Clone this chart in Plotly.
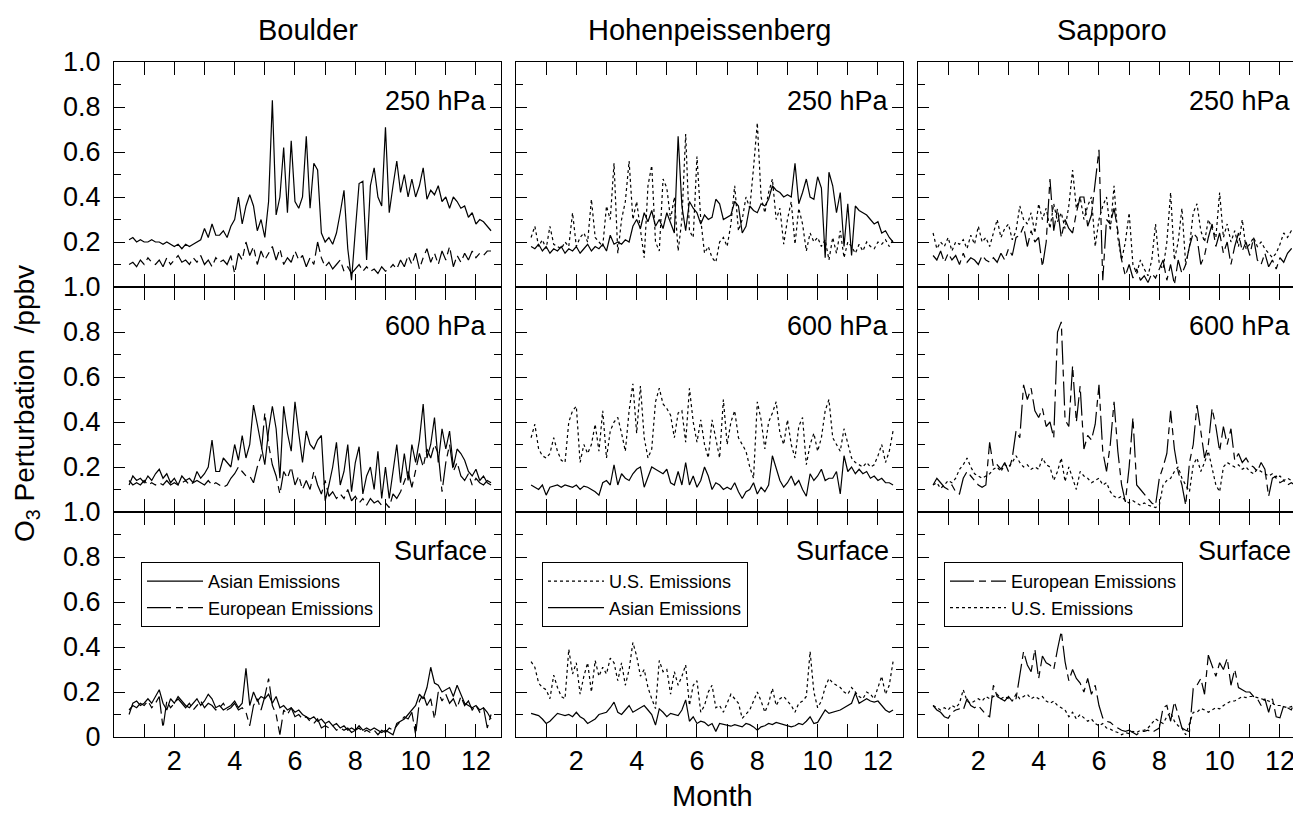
import plotly.graph_objects as go

# ---------------- data (O3 perturbation, ppbv) ----------------
months = [0.5 + i * 0.125 for i in range(97)]
sites = ["Boulder", "Hohenpeissenberg", "Sapporo"]
levels = ["250 hPa", "600 hPa", "Surface"]
month_ticks = list(range(1, 13))
month_labels = [str(m) if m % 2 == 0 else "" for m in month_ticks]
y_ticks = [0, 0.2, 0.4, 0.6, 0.8, 1.0]
y_labels_top = ["", "0.2", "0.4", "0.6", "0.8", "1.0"]
y_labels_bottom = ["0", "0.2", "0.4", "0.6", "0.8", "1.0"]
y_minor = [0.1, 0.3, 0.5, 0.7, 0.9]

# Boulder
BA250 = [0.21,0.22,0.20,0.21,0.20,0.20,0.21,0.20, 0.20,0.19,0.20,0.19,0.18,0.19,0.17,0.19,
         0.18,0.19,0.20,0.21,0.26,0.22,0.28,0.23, 0.23,0.25,0.22,0.27,0.30,0.40,0.28,0.36,
         0.41,0.36,0.25,0.30,0.22,0.38,0.83,0.32, 0.40,0.62,0.33,0.65,0.38,0.35,0.40,0.67,
         0.35,0.55,0.52,0.24,0.20,0.22,0.19,0.24, 0.33,0.43,0.17,0.03,0.25,0.46,0.47,0.12,
         0.45,0.53,0.40,0.36,0.71,0.33,0.45,0.56, 0.42,0.50,0.40,0.48,0.40,0.45,0.53,0.39,
         0.43,0.41,0.45,0.38,0.40,0.35,0.40,0.38, 0.35,0.36,0.31,0.33,0.28,0.30,0.29,0.27, 0.25]
BE250 = [0.10,0.11,0.09,0.12,0.10,0.13,0.11,0.10, 0.12,0.09,0.13,0.10,0.12,0.14,0.11,0.12,
         0.10,0.13,0.11,0.14,0.10,0.12,0.09,0.13, 0.11,0.12,0.10,0.14,0.06,0.15,0.12,0.20,
         0.14,0.18,0.10,0.16,0.12,0.15,0.18,0.12, 0.17,0.10,0.13,0.11,0.16,0.12,0.14,0.09,
         0.13,0.10,0.20,0.13,0.09,0.11,0.08,0.10, 0.12,0.07,0.09,0.06,0.08,0.10,0.07,0.09,
         0.07,0.08,0.06,0.09,0.07,0.08,0.10,0.08, 0.12,0.09,0.14,0.10,0.15,0.08,0.13,0.17,
         0.11,0.15,0.10,0.16,0.12,0.18,0.09,0.14, 0.11,0.15,0.12,0.16,0.13,0.15,0.14,0.16, 0.16]
BA600 = [0.12,0.16,0.14,0.15,0.13,0.16,0.14,0.17, 0.19,0.15,0.17,0.13,0.15,0.12,0.16,0.14,
         0.15,0.13,0.18,0.15,0.17,0.20,0.32,0.18, 0.18,0.24,0.22,0.20,0.30,0.23,0.34,0.24,
         0.30,0.475,0.39,0.30,0.21,0.36,0.47,0.37, 0.15,0.47,0.35,0.27,0.49,0.35,0.22,0.36,
         0.30,0.28,0.32,0.34,0.05,0.12,0.20,0.31, 0.12,0.18,0.30,0.09,0.22,0.29,0.08,0.16,
         0.20,0.10,0.27,0.06,0.20,0.06,0.18,0.30, 0.13,0.26,0.14,0.30,0.22,0.32,0.48,0.24,
         0.30,0.42,0.22,0.37,0.28,0.36,0.20,0.28, 0.26,0.23,0.18,0.16,0.19,0.14,0.16,0.13, 0.12]
BE600 = [0.14,0.12,0.13,0.12,0.14,0.12,0.13,0.12, 0.13,0.12,0.14,0.12,0.13,0.12,0.13,0.14,
         0.12,0.13,0.14,0.13,0.12,0.14,0.12,0.13, 0.12,0.11,0.12,0.15,0.17,0.20,0.18,0.16,
         0.16,0.13,0.20,0.25,0.44,0.30,0.21,0.16, 0.08,0.18,0.15,0.20,0.12,0.16,0.10,0.14,
         0.10,0.18,0.12,0.08,0.14,0.07,0.09,0.06, 0.08,0.06,0.10,0.05,0.07,0.04,0.06,0.03,
         0.06,0.04,0.05,0.03,0.04,0.02,0.08,0.06, 0.09,0.14,0.18,0.11,0.18,0.26,0.20,0.28,
         0.24,0.30,0.26,0.09,0.22,0.30,0.18,0.22, 0.16,0.14,0.17,0.12,0.15,0.13,0.12,0.14, 0.13]
BA_S = [0.10,0.15,0.16,0.14,0.15,0.17,0.15,0.18, 0.21,0.15,0.12,0.17,0.15,0.18,0.16,0.14,
        0.13,0.15,0.17,0.14,0.16,0.19,0.17,0.13, 0.14,0.12,0.13,0.14,0.16,0.13,0.15,0.305,
        0.14,0.20,0.16,0.18,0.17,0.19,0.15,0.18, 0.13,0.14,0.12,0.13,0.11,0.12,0.10,0.09,
        0.08,0.09,0.07,0.08,0.06,0.07,0.05,0.06, 0.04,0.05,0.03,0.04,0.03,0.05,0.03,0.04,
        0.03,0.04,0.03,0.02,0.03,0.02,0.01,0.06, 0.07,0.08,0.10,0.12,0.14,0.19,0.17,0.22,
        0.31,0.24,0.23,0.20,0.21,0.22,0.18,0.23, 0.19,0.15,0.14,0.13,0.14,0.12,0.13,0.11, 0.08]
BE_S = [0.12,0.14,0.13,0.15,0.14,0.16,0.13,0.15, 0.18,0.04,0.16,0.13,0.15,0.17,0.15,0.13,
        0.15,0.12,0.14,0.16,0.13,0.15,0.14,0.12, 0.13,0.15,0.12,0.13,0.15,0.12,0.13,0.11,
        0.05,0.14,0.17,0.12,0.18,0.26,0.14,0.10, 0.01,0.12,0.10,0.13,0.09,0.10,0.08,0.09,
        0.07,0.06,0.08,0.04,0.05,0.04,0.05,0.03, 0.04,0.03,0.04,0.02,0.03,0.04,0.02,0.03,
        0.02,0.03,0.01,0.03,0.02,0.04,0.03,0.05, 0.07,0.09,0.08,0.11,0.01,0.16,0.19,0.14,
        0.17,0.08,0.20,0.16,0.19,0.15,0.17,0.13, 0.18,0.14,0.16,0.12,0.14,0.11,0.13,0.04, 0.10]

# Hohenpeissenberg
HA250 = [0.18,0.17,0.19,0.16,0.18,0.15,0.17,0.16, 0.18,0.15,0.17,0.16,0.18,0.15,0.17,0.19,
         0.16,0.18,0.17,0.19,0.16,0.23,0.19,0.20, 0.19,0.21,0.20,0.27,0.30,0.26,0.33,0.29,
         0.34,0.27,0.30,0.26,0.33,0.28,0.24,0.67, 0.36,0.25,0.38,0.35,0.33,0.28,0.32,0.30,
         0.31,0.39,0.37,0.30,0.31,0.32,0.38,0.36, 0.24,0.27,0.36,0.34,0.33,0.37,0.36,0.39,
         0.45,0.43,0.42,0.40,0.41,0.40,0.55,0.37, 0.42,0.48,0.40,0.39,0.49,0.44,0.13,0.51,
         0.45,0.33,0.42,0.18,0.37,0.14,0.36,0.34, 0.33,0.32,0.30,0.28,0.29,0.24,0.25,0.22, 0.20]
HU250 = [0.22,0.27,0.18,0.21,0.17,0.27,0.19,0.18, 0.17,0.20,0.18,0.33,0.18,0.22,0.24,0.20,
         0.39,0.22,0.20,0.18,0.36,0.30,0.55,0.15, 0.30,0.38,0.56,0.30,0.38,0.26,0.13,0.45,
         0.54,0.20,0.16,0.48,0.44,0.30,0.40,0.16, 0.30,0.68,0.25,0.22,0.58,0.30,0.15,0.18,
         0.13,0.11,0.20,0.22,0.18,0.28,0.45,0.25, 0.30,0.40,0.35,0.53,0.73,0.40,0.33,0.42,
         0.48,0.30,0.35,0.19,0.30,0.38,0.19,0.35, 0.28,0.16,0.24,0.20,0.22,0.18,0.21,0.12,
         0.22,0.15,0.25,0.13,0.20,0.18,0.15,0.19, 0.16,0.20,0.18,0.17,0.20,0.19,0.21,0.18, 0.21]
HA600 = [0.12,0.11,0.10,0.12,0.075,0.11,0.115,0.12, 0.11,0.12,0.115,0.11,0.12,0.10,0.115,0.11,
         0.10,0.09,0.075,0.13,0.14,0.12,0.21,0.12, 0.17,0.15,0.14,0.17,0.19,0.20,0.11,0.16,
         0.20,0.19,0.18,0.17,0.19,0.13,0.12,0.18, 0.12,0.22,0.12,0.16,0.11,0.14,0.20,0.16,
         0.10,0.13,0.12,0.10,0.11,0.10,0.13,0.09, 0.06,0.09,0.10,0.13,0.08,0.11,0.09,0.12,
         0.25,0.19,0.14,0.11,0.13,0.16,0.12,0.14, 0.10,0.07,0.17,0.14,0.16,0.19,0.14,0.15,
         0.15,0.18,0.08,0.25,0.18,0.20,0.17,0.19, 0.17,0.18,0.15,0.16,0.14,0.15,0.13,0.13, 0.12]
HU600 = [0.33,0.39,0.28,0.25,0.24,0.26,0.33,0.27, 0.23,0.22,0.40,0.45,0.47,0.22,0.30,0.26,
         0.30,0.39,0.27,0.45,0.24,0.36,0.40,0.42, 0.35,0.27,0.45,0.57,0.35,0.56,0.33,0.24,
         0.28,0.49,0.55,0.48,0.46,0.43,0.33,0.44, 0.45,0.31,0.55,0.40,0.31,0.41,0.30,0.24,
         0.41,0.33,0.24,0.50,0.30,0.40,0.45,0.33, 0.30,0.27,0.20,0.15,0.49,0.41,0.28,0.40,
         0.44,0.49,0.35,0.30,0.41,0.30,0.24,0.38, 0.42,0.21,0.30,0.35,0.27,0.33,0.45,0.50,
         0.33,0.30,0.27,0.37,0.30,0.24,0.22,0.21, 0.20,0.22,0.20,0.21,0.25,0.30,0.22,0.27, 0.36]
HA_S = [0.105,0.10,0.095,0.08,0.06,0.07,0.09,0.105, 0.10,0.095,0.10,0.09,0.11,0.09,0.08,0.06,
        0.07,0.08,0.10,0.105,0.11,0.13,0.155,0.11, 0.10,0.12,0.14,0.11,0.12,0.13,0.14,0.12,
        0.10,0.053,0.125,0.11,0.09,0.105,0.10,0.095, 0.12,0.165,0.07,0.09,0.06,0.07,0.065,0.05,
        0.06,0.025,0.06,0.055,0.05,0.048,0.055,0.05, 0.045,0.06,0.055,0.045,0.03,0.045,0.05,0.06,
        0.055,0.065,0.06,0.055,0.05,0.045,0.05,0.06, 0.055,0.07,0.09,0.06,0.065,0.09,0.12,0.105,
        0.11,0.115,0.12,0.13,0.14,0.15,0.195,0.15, 0.16,0.17,0.16,0.155,0.16,0.14,0.12,0.11, 0.12]
HU_S = [0.335,0.31,0.24,0.22,0.21,0.17,0.275,0.22, 0.18,0.17,0.39,0.28,0.33,0.19,0.27,0.33,
        0.20,0.34,0.27,0.31,0.28,0.35,0.33,0.25, 0.33,0.23,0.30,0.42,0.36,0.27,0.30,0.22,
        0.17,0.126,0.34,0.29,0.30,0.19,0.29,0.23, 0.27,0.32,0.14,0.23,0.25,0.11,0.14,0.20,
        0.23,0.13,0.14,0.11,0.15,0.19,0.17,0.15, 0.083,0.10,0.12,0.16,0.20,0.16,0.11,0.15,
        0.216,0.14,0.17,0.18,0.16,0.14,0.11,0.15, 0.16,0.18,0.38,0.20,0.13,0.16,0.22,0.26,
        0.24,0.23,0.22,0.20,0.19,0.22,0.20,0.18, 0.17,0.20,0.19,0.17,0.22,0.27,0.19,0.23, 0.335]

# Sapporo
SE250 = [0.14,0.12,0.16,0.11,0.15,0.12,0.14,0.10, 0.15,0.11,0.13,0.12,0.10,0.14,0.12,0.11,
         0.13,0.11,0.15,0.12,0.17,0.14,0.22,0.23, 0.27,0.18,0.25,0.20,0.22,0.09,0.20,0.48,
         0.25,0.35,0.22,0.30,0.26,0.24,0.33,0.40, 0.40,0.27,0.32,0.48,0.61,0.03,0.30,0.28,
         0.35,0.25,0.12,0.05,0.10,0.04,0.08,0.03, 0.05,0.02,0.06,0.04,0.08,0.12,0.03,0.10,
         0.01,0.12,0.06,0.10,0.18,0.24,0.22,0.10, 0.14,0.22,0.28,0.18,0.24,0.15,0.20,0.10,
         0.18,0.24,0.16,0.20,0.14,0.22,0.12,0.10, 0.15,0.09,0.12,0.08,0.13,0.11,0.15,0.17, 0.18]
SU250 = [0.24,0.17,0.20,0.18,0.22,0.16,0.20,0.19, 0.21,0.17,0.23,0.19,0.27,0.20,0.22,0.18,
         0.24,0.30,0.22,0.26,0.28,0.21,0.25,0.36, 0.30,0.28,0.33,0.24,0.37,0.30,0.35,0.26,
         0.37,0.29,0.33,0.26,0.36,0.52,0.35,0.40, 0.30,0.36,0.40,0.18,0.30,0.36,0.40,0.25,
         0.45,0.22,0.12,0.20,0.33,0.10,0.06,0.12, 0.08,0.05,0.12,0.28,0.10,0.08,0.20,0.42,
         0.12,0.20,0.35,0.10,0.18,0.33,0.37,0.25, 0.20,0.30,0.26,0.22,0.42,0.22,0.28,0.20,
         0.25,0.18,0.30,0.17,0.19,0.22,0.18,0.20, 0.17,0.15,0.13,0.15,0.19,0.24,0.22,0.25, 0.24]
SE600 = [0.12,0.15,0.13,0.11,0.10,0.12,0.09,0.08, 0.15,0.18,0.16,0.14,0.12,0.11,0.12,0.31,
         0.20,0.21,0.19,0.22,0.18,0.24,0.36,0.33, 0.565,0.50,0.55,0.45,0.42,0.46,0.38,0.40,
         0.33,0.80,0.845,0.41,0.38,0.65,0.40,0.56, 0.28,0.34,0.32,0.39,0.565,0.27,0.18,0.30,
         0.49,0.27,0.12,0.045,0.20,0.42,0.12,0.10, 0.08,0.06,0.04,0.03,0.15,0.20,0.26,0.45,
         0.28,0.18,0.12,0.03,0.22,0.30,0.475,0.36, 0.24,0.30,0.46,0.38,0.27,0.38,0.30,0.37,
         0.23,0.26,0.22,0.24,0.21,0.20,0.18,0.22, 0.19,0.07,0.15,0.16,0.13,0.14,0.12,0.13, 0.12]
SU600 = [0.12,0.13,0.105,0.12,0.14,0.13,0.15,0.19, 0.21,0.24,0.20,0.17,0.16,0.15,0.16,0.17,
         0.19,0.20,0.18,0.21,0.20,0.22,0.25,0.22, 0.20,0.21,0.19,0.20,0.19,0.24,0.21,0.20,
         0.14,0.18,0.24,0.135,0.20,0.15,0.10,0.18, 0.16,0.15,0.13,0.14,0.15,0.12,0.13,0.09,
         0.07,0.06,0.07,0.05,0.04,0.05,0.04,0.03, 0.04,0.03,0.025,0.02,0.03,0.12,0.14,0.15,
         0.18,0.20,0.15,0.12,0.09,0.21,0.24,0.18, 0.22,0.27,0.20,0.12,0.09,0.20,0.22,0.21,
         0.20,0.21,0.19,0.20,0.18,0.17,0.19,0.18, 0.17,0.16,0.17,0.15,0.16,0.14,0.15,0.14, 0.13]
SE_S = [0.14,0.12,0.11,0.09,0.083,0.11,0.12,0.125, 0.12,0.17,0.14,0.13,0.14,0.12,0.10,0.09,
        0.23,0.18,0.17,0.16,0.18,0.16,0.17,0.275, 0.38,0.32,0.29,0.39,0.26,0.36,0.33,0.32,
        0.30,0.39,0.47,0.335,0.25,0.30,0.26,0.24, 0.20,0.26,0.19,0.23,0.14,0.085,0.07,0.065,
        0.05,0.04,0.03,0.025,0.03,0.02,0.01,0.025, 0.025,0.03,0.02,0.03,0.04,0.13,0.14,0.07,
        0.157,0.10,0.04,0.03,0.024,0.216,0.23,0.26, 0.19,0.364,0.32,0.27,0.33,0.30,0.35,0.23,
        0.30,0.22,0.21,0.20,0.20,0.18,0.17,0.14, 0.17,0.11,0.17,0.09,0.085,0.14,0.13,0.12, 0.16]
SU_S = [0.14,0.13,0.12,0.13,0.12,0.14,0.13,0.15, 0.21,0.16,0.15,0.16,0.17,0.16,0.18,0.17,
        0.18,0.19,0.17,0.18,0.17,0.16,0.19,0.17, 0.18,0.19,0.17,0.18,0.17,0.18,0.16,0.15,
        0.16,0.14,0.13,0.12,0.09,0.11,0.08,0.10, 0.085,0.07,0.08,0.06,0.05,0.06,0.04,0.035,
        0.025,0.02,0.01,0.02,0.015,0.025,0.02,0.03, 0.03,0.04,0.06,0.08,0.07,0.06,0.09,0.11,
        0.07,0.05,0.04,0.01,0.06,0.11,0.11,0.127, 0.12,0.11,0.12,0.13,0.125,0.14,0.15,0.16,
        0.16,0.17,0.18,0.175,0.18,0.18,0.175,0.17, 0.165,0.16,0.15,0.14,0.14,0.135,0.13,0.135, 0.14]

site_series = {
    "Boulder": [("Asian Emissions", [BA250, BA600, BA_S]),
                ("European Emissions", [BE250, BE600, BE_S])],
    "Hohenpeissenberg": [("U.S. Emissions", [HU250, HU600, HU_S]),
                         ("Asian Emissions", [HA250, HA600, HA_S])],
    "Sapporo": [("European Emissions", [SE250, SE600, SE_S]),
                ("U.S. Emissions", [SU250, SU600, SU_S])],
}

# ---------------- styling / layout ----------------
# page body has an 8px margin, so figure pixel = reference pixel - 8
W, H = 1301, 817
FONT = "Liberation Sans, Arial, Helvetica, sans-serif"
dash_of = {"Asian Emissions": "solid",
           "European Emissions": "24px,5px,7px,5px",
           "U.S. Emissions": "3px,3px"}
col_px = [(106, 493), (508, 895), (910, 1297)]
row_px = [(54, 279), (279, 504), (504, 729)]
x_range = [0, 12.83]
legend_keys = ["legend", "legend2", "legend3"]
legend_px = [(133, 554), (534, 554), (936, 554)]

TICK = 27
TITLE = 29
fig = go.Figure()

for c, site in enumerate(sites):
    for r in range(3):
        idx = r * 3 + c + 1
        sfx = "" if idx == 1 else str(idx)
        for name, arrs in site_series[site]:
            fig.add_trace(go.Scatter(
                x=months, y=arrs[r], mode="lines", name=name,
                line=dict(color="black", width=1.2, dash=dash_of[name]),
                xaxis="x" + sfx, yaxis="y" + sfx,
                showlegend=(r == 2), legend=legend_keys[c],
                hoverinfo="skip"))
        fig.layout["xaxis" + sfx] = dict(
            domain=[col_px[c][0] / W, col_px[c][1] / W], range=x_range,
            anchor="y" + sfx, showline=True, linecolor="black", linewidth=1,
            mirror="ticks", ticks="inside", ticklen=13, tickcolor="black", tickwidth=1,
            tickmode="array", tickvals=month_ticks, ticktext=month_labels,
            showticklabels=(r == 2), ticklabelstandoff=0, automargin=False,
            tickfont=dict(size=TICK, color="black", family=FONT),
            showgrid=False, zeroline=False)
        fig.layout["yaxis" + sfx] = dict(
            domain=[1 - row_px[r][1] / H, 1 - row_px[r][0] / H], range=[0, 1],
            anchor="x" + sfx, showline=True, linecolor="black", linewidth=1,
            mirror="ticks", ticks="inside", ticklen=11, tickcolor="black", tickwidth=1,
            tickmode="array", tickvals=y_ticks,
            ticktext=(y_labels_bottom if r == 2 else y_labels_top),
            showticklabels=(c == 0), ticklabelstandoff=7, automargin=False,
            tickfont=dict(size=TICK, color="black", family=FONT),
            minor=dict(tickmode="array", tickvals=y_minor, ticks="inside", ticklen=7,
                       tickcolor="black", tickwidth=1, showgrid=False),
            showgrid=False, zeroline=False)
        fig.add_annotation(
            text=levels[r], xref=f"x{sfx} domain", yref=f"y{sfx} domain",
            x=1, y=0.825, xanchor="right", yanchor="middle",
            xshift=-12, showarrow=False,
            font=dict(size=TICK, color="black", family=FONT))
    # column title
    fig.add_annotation(
        text=site, xref="paper", yref="paper",
        x=((col_px[c][0] + col_px[c][1]) / 2) / W, y=1 - 22 / H,
        xanchor="center", yanchor="middle", showarrow=False,
        font=dict(size=TITLE, color="black", family=FONT))
    lx, ly = legend_px[c]
    fig.layout[legend_keys[c]] = dict(
        x=lx / W, y=1 - ly / H, xanchor="left", yanchor="top",
        bordercolor="black", borderwidth=1, bgcolor="white", itemwidth=56,
        font=dict(size=18, color="black", family=FONT), tracegroupgap=0)

fig.add_annotation(text="O<sub>3</sub> Perturbation\u00a0 /ppbv", xref="paper", yref="paper",
                   x=18 / W, y=1 - 396 / H, textangle=-90, xanchor="center",
                   yanchor="middle", showarrow=False,
                   font=dict(size=28, color="black", family=FONT))
fig.add_annotation(text="Month", xref="paper", yref="paper",
                   x=704 / W, y=1 - 788 / H, xanchor="center", yanchor="middle",
                   showarrow=False, font=dict(size=TITLE, color="black", family=FONT))

fig.update_layout(width=W, height=H, margin=dict(l=0, r=0, t=0, b=0),
                  paper_bgcolor="white", plot_bgcolor="white",
                  font=dict(family=FONT, color="black"))

fig.write_html("out.html")
